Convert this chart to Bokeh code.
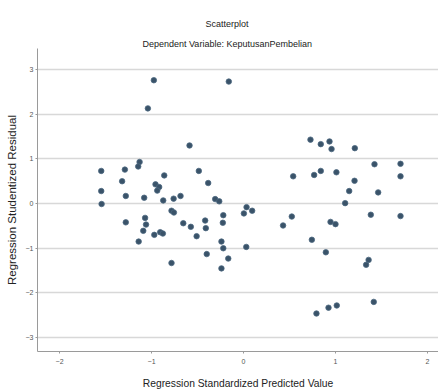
from bokeh.plotting import figure
from bokeh.models import ColumnDataSource, Range1d, FixedTicker, Title
from bokeh.embed import file_html
from bokeh.resources import INLINE

title_text = "Scatterplot"
subtitle_text = "Dependent Variable: KeputusanPembelian"
x_label = "Regression Standardized Predicted Value"
y_label = "Regression Studentized Residual"
x_ticks = [-2, -1, 0, 1, 2]
y_ticks = [-3, -2, -1, 0, 1, 2, 3]

pred = [-0.975, -0.16, -1.04, -0.587, -1.13, -1.145, -1.547, -1.29, -0.486, -0.862,
        -1.32, -0.384, -0.957, -0.917, -0.938, -1.547, -1.28, -1.08, -0.685, -0.76,
        -0.873, -0.308, -0.264, -1.543, -0.783, -0.757, -0.22, -1.07, -0.417, -0.225,
        -1.28, -0.655, -1.06, -0.573, -0.41, -1.09, -0.906, -0.877, -0.97, -0.51,
        -1.14, -0.24, -0.22, -0.40, -0.166, -0.783, -0.24,
        0.728, 0.84, 0.935, 0.957, 1.21, 1.424, 1.707, 0.54, 0.768, 0.84,
        1.01, 1.707, 1.207, 1.149, 1.464, 1.105, 0.033, 0.094, 0.004, 0.525,
        1.384, 1.707, 0.43, 0.946, 1.0, 0.743, 0.03, 0.895, 1.36, 1.333,
        1.416, 0.924, 1.014, 0.793]
resid = [2.76, 2.73, 2.13, 1.30, 0.93, 0.83, 0.73, 0.76, 0.73, 0.63,
         0.50, 0.46, 0.43, 0.37, 0.29, 0.28, 0.17, 0.13, 0.17, 0.11,
         0.07, 0.10, 0.05, -0.01, -0.16, -0.20, -0.26, -0.32, -0.38, -0.43,
         -0.42, -0.44, -0.47, -0.52, -0.55, -0.61, -0.64, -0.67, -0.70, -0.73,
         -0.85, -0.85, -1.00, -1.13, -1.23, -1.33, -1.45,
         1.43, 1.33, 1.39, 1.22, 1.24, 0.88, 0.89, 0.61, 0.64, 0.73,
         0.70, 0.61, 0.51, 0.28, 0.25, 0.01, -0.08, -0.16, -0.22, -0.29,
         -0.25, -0.28, -0.49, -0.41, -0.46, -0.81, -0.97, -1.09, -1.26, -1.37,
         -2.20, -2.33, -2.28, -2.46]

src = ColumnDataSource(data=dict(x=pred, y=resid))

font = "Liberation Sans"

p = figure(width=438, height=392, output_backend="svg", toolbar_location=None,
           title=None,
           x_range=Range1d(-2.24, 2.12), y_range=Range1d(-3.31, 3.47),
           min_border_left=37, min_border_right=0, min_border_top=48, min_border_bottom=41)
p.outline_line_color = None
p.background_fill_color = "white"
p.border_fill_color = "white"

p.xgrid.visible = False
p.ygrid.grid_line_color = "#d8d8d8"
p.ygrid.grid_line_width = 1.3

for ax, ticks in ((p.xaxis, x_ticks), (p.yaxis, y_ticks)):
    ax.ticker = FixedTicker(ticks=ticks)
    ax.axis_line_color = "#9a9a9a"
    ax.major_tick_line_color = "#9a9a9a"
    ax.major_tick_out = 2
    ax.major_tick_in = 0
    ax.minor_tick_line_color = None
    ax.major_label_text_font = font
    ax.major_label_text_font_size = "7px"
    ax.major_label_text_color = "#555555"
    ax.axis_label_text_font = font
    ax.axis_label_text_font_style = "normal"
    ax.axis_label_text_color = "#222222"

p.xaxis.axis_label = x_label
p.xaxis.axis_label_text_font_size = "10.3px"
p.xaxis.major_label_standoff = 5
p.xaxis.axis_label_standoff = 11

p.yaxis.axis_label = y_label
p.yaxis.axis_label_text_font_size = "11.5px"
p.yaxis.major_label_standoff = 2
p.yaxis.axis_label_standoff = 5

p.scatter("x", "y", source=src, size=5.5, fill_color="#3a5369",
          line_color="#4d6880", line_width=0.8)

p.add_layout(Title(text=subtitle_text, align="left", offset=105, standoff=0,
                   text_font=font, text_font_size="9px", text_font_style="normal",
                   text_color="#222222"), "above")
p.add_layout(Title(text=title_text, align="left", offset=168, standoff=15,
                   text_font=font, text_font_size="9px", text_font_style="normal",
                   text_color="#222222"), "above")

open("out.html", "w").write(file_html(p, INLINE))
